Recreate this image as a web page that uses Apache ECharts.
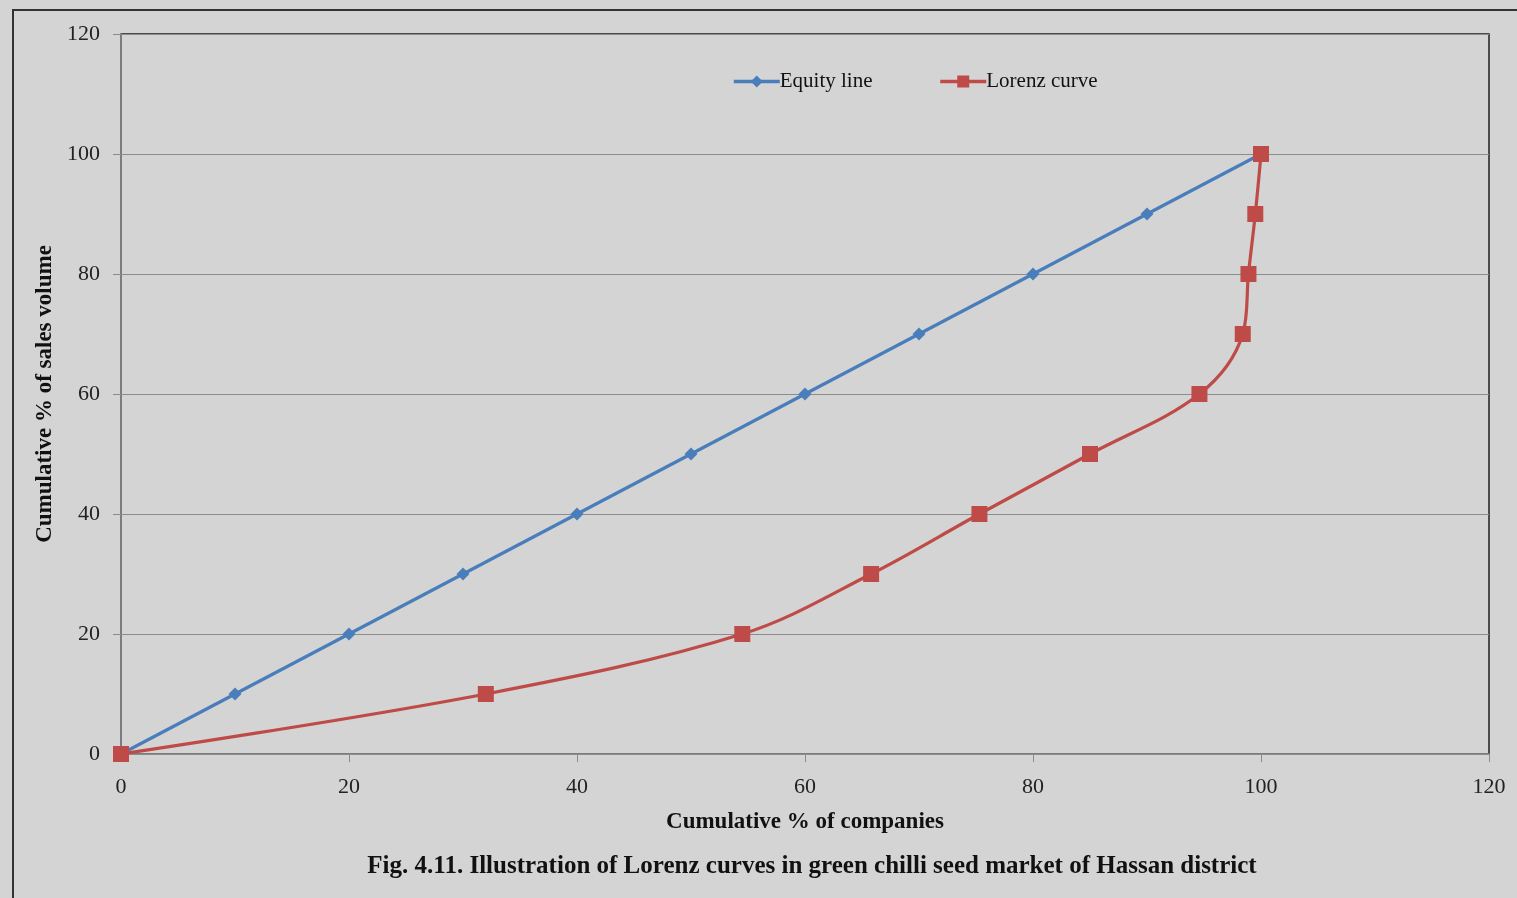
<!DOCTYPE html>
<html>
<head>
<meta charset="utf-8">
<script src="https://cdn.jsdelivr.net/npm/echarts@6/dist/echarts.min.js"></script>
<style>
  html, body { margin: 0; padding: 0; background: #d4d4d4; }
  #frame { position: absolute; left: 12px; top: 9px; width: 1505px; height: 889px;
           border-top: 2px solid #333; border-left: 2px solid #333; box-sizing: border-box; }
  #chart { position: absolute; left: 0; top: 0; width: 1517px; height: 898px; }
</style>
</head>
<body>
<div id="frame"></div>
<div id="chart"></div>
<script>
// Cumulative shares (%) of companies (x) and of sales volume (y)
const equityX = [0, 10, 20, 30, 40, 50, 60, 70, 80, 90, 100];
const equityY = [0, 10, 20, 30, 40, 50, 60, 70, 80, 90, 100];
const lorenzX = [0, 32.0, 54.5, 65.8, 75.3, 85.0, 94.6, 98.4, 98.9, 99.5, 100];
const lorenzY = [0, 10, 20, 30, 40, 50, 60, 70, 80, 90, 100];
const seriesNames = ['Equity line', 'Lorenz curve'];
const xTitle = 'Cumulative % of companies';
const yTitle = 'Cumulative % of sales volume';
const caption = 'Fig. 4.11. Illustration of Lorenz curves in green chilli seed market of Hassan district';

const pairs = (xs, ys) => xs.map((x, i) => [x, ys[i]]);
const serif = '"Liberation Serif", "DejaVu Serif", serif';

const chart = echarts.init(document.getElementById('chart'), null, { renderer: 'canvas' });
chart.setOption({
  backgroundColor: 'transparent',
  animation: false,
  textStyle: { fontFamily: serif },
  title: {
    text: caption,
    left: 807, top: 849, textAlign: 'center',
    textStyle: { fontFamily: serif, fontSize: 25, fontWeight: 'bold', color: '#111' }
  },
  legend: {
    left: 727, top: 66,
    itemWidth: 46, itemHeight: 15, itemGap: 66,
    lineStyle: { width: 3.5 },
    textStyle: { fontFamily: serif, fontSize: 21, color: '#111', padding: [0, 0, 0, -5] },
    data: seriesNames
  },
  grid: {
    left: 121, top: 34, right: 28, bottom: 144,
    show: true, borderColor: '#1e1e1e', borderWidth: 1.5, backgroundColor: 'transparent'
  },
  xAxis: {
    type: 'value', min: 0, max: 120, interval: 20,
    name: xTitle, nameLocation: 'middle', nameGap: 57,
    nameTextStyle: { fontFamily: serif, fontSize: 23, fontWeight: 'bold', color: '#111' },
    axisLine: { show: true, lineStyle: { color: '#8c8c8c', width: 1.5 } },
    axisTick: { show: true, length: 8, lineStyle: { color: '#8c8c8c' } },
    axisLabel: { fontFamily: serif, fontSize: 22, color: '#222', margin: 22 },
    splitLine: { show: false }
  },
  yAxis: {
    type: 'value', min: 0, max: 120, interval: 20,
    name: yTitle, nameLocation: 'middle', nameGap: 62,
    nameTextStyle: { fontFamily: serif, fontSize: 23, fontWeight: 'bold', color: '#111' },
    axisLine: { show: true, lineStyle: { color: '#8c8c8c', width: 1.5 } },
    axisTick: { show: true, length: 8, lineStyle: { color: '#8c8c8c' } },
    axisLabel: { fontFamily: serif, fontSize: 22, color: '#222', margin: 21 },
    splitLine: { show: true, lineStyle: { color: '#8c8c8c', width: 1.2 } }
  },
  series: [
    {
      name: seriesNames[0], type: 'line',
      data: pairs(equityX, equityY),
      symbol: 'diamond', symbolSize: 13,
      lineStyle: { color: '#4a7ebb', width: 3.2 },
      itemStyle: { color: '#4a7ebb' },
      z: 2
    },
    {
      name: seriesNames[1], type: 'line',
      data: pairs(lorenzX, lorenzY),
      smooth: 0.35,
      symbol: 'rect', symbolSize: 16,
      lineStyle: { color: '#be4b48', width: 3.2 },
      itemStyle: { color: '#be4b48' },
      z: 3
    }
  ]
});
</script>
</body>
</html>
